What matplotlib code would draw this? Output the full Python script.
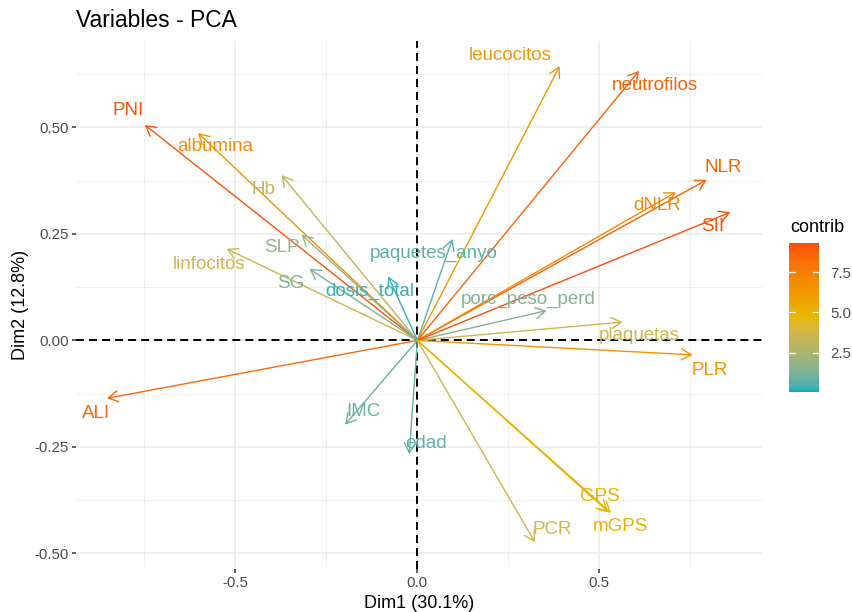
import numpy as np
import matplotlib
matplotlib.use("Agg")
import matplotlib.pyplot as plt
from matplotlib.colors import ListedColormap, Normalize
from matplotlib.colorbar import ColorbarBase

plt.rcParams['font.family'] = ['Liberation Sans', 'DejaVu Sans']

# ---------------- data ----------------
variables = ["PNI", "albumina", "Hb", "SLP", "linfocitos", "SG", "dosis_total",
             "paquetes_anyo", "porc_peso_perd", "plaquetas", "NLR", "dNLR", "SII",
             "PLR", "leucocitos", "neutrofilos", "ALI", "IMC", "edad", "GPS",
             "mGPS", "PCR"]
dim1 = [-0.749, -0.603, -0.373, -0.318, -0.524, -0.297, -0.080,
        0.096, 0.355, 0.564, 0.795, 0.710, 0.860,
        0.756, 0.391, 0.609, -0.853, -0.199, -0.0225, 0.524,
        0.532, 0.323]
dim2 = [0.506, 0.487, 0.388, 0.248, 0.215, 0.168, 0.150,
        0.238, 0.070, 0.043, 0.377, 0.348, 0.301,
        -0.034, 0.644, 0.633, -0.136, -0.198, -0.267, -0.402,
        -0.405, -0.474]
contrib = [9.17, 6.75, 3.25, 1.82, 3.60, 1.30, 0.33,
           0.74, 1.47, 3.59, 8.69, 7.02, 9.32,
           6.43, 6.37, 8.66, 8.38, 0.88, 0.81, 4.90,
           5.02, 3.70]
contrib_limits = (0.08, 9.32)
colorbar_ticks = [2.5, 5.0, 7.5]
x_ticks = [-0.5, 0.0, 0.5]
y_ticks = [-0.50, -0.25, 0.00, 0.25, 0.50]
x_label = "Dim1 (30.1%)"
y_label = "Dim2 (12.8%)"
title = "Variables - PCA"

# label offsets (layout, data units) relative to arrow tips
label_dx = [-0.046, 0.047, -0.049, -0.055, -0.049, -0.051, -0.050,
            -0.051, -0.050, 0.047, 0.045, -0.051, -0.049,
            0.046, -0.137, 0.043, -0.029, 0.050, 0.045, -0.023,
            0.026, 0.047]
label_dy = [0.033, -0.032, -0.034, -0.031, -0.037, -0.034, -0.035,
            -0.033, 0.026, -0.031, 0.029, -0.032, -0.034,
            -0.036, 0.024, -0.035, -0.036, 0.030, 0.026, 0.036,
            -0.033, 0.029]

# ---------------- colour scale (Lab interpolation like ggplot) ----------------
_M = np.array([[0.4124, 0.3576, 0.1805], [0.2126, 0.7152, 0.0722], [0.0193, 0.1192, 0.9505]])
_W = np.array([0.95047, 1.0, 1.08883])

def hex2lab(h):
    rgb = np.array([int(h[i:i + 2], 16) for i in (1, 3, 5)]) / 255.0
    lin = np.where(rgb <= 0.04045, rgb / 12.92, ((rgb + 0.055) / 1.055) ** 2.4)
    t = (_M @ lin) / _W
    f = np.where(t > 0.008856, np.cbrt(t), 7.787 * t + 16 / 116)
    return np.array([116 * f[1] - 16, 500 * (f[0] - f[1]), 200 * (f[1] - f[2])])

def lab2rgb(lab):
    L, a, b = lab
    fy = (L + 16) / 116
    f = np.array([fy + a / 500, fy, fy - b / 200])
    t = np.where(f > 0.2069, f ** 3, (f - 16 / 116) / 7.787)
    lin = np.linalg.solve(_M, t * _W)
    lin = np.clip(lin, 0, 1)
    rgb = np.where(lin <= 0.0031308, 12.92 * lin, 1.055 * lin ** (1 / 2.4) - 0.055)
    return np.clip(rgb, 0, 1)

stops = [hex2lab(h) for h in ["#00AFBB", "#E7B800", "#FC4E07"]]
cols = []
for s in np.linspace(0, 1, 256):
    if s <= 0.5:
        u = s / 0.5
        lab = stops[0] * (1 - u) + stops[1] * u
    else:
        u = (s - 0.5) / 0.5
        lab = stops[1] * (1 - u) + stops[2] * u
    cols.append(lab2rgb(lab))
cmap = ListedColormap(cols)
norm = Normalize(vmin=contrib_limits[0], vmax=contrib_limits[1])

# ---------------- figure ----------------
fig = plt.figure(figsize=(8.52, 6.12), dpi=100)
ax = fig.add_axes([0.0892, 0.0708, 0.8048, 0.8622])
ax.set_xlim(-0.938, 0.946)
ax.set_ylim(-0.536, 0.703)

for sp in ax.spines.values():
    sp.set_visible(False)
ax.set_xticks(x_ticks)
ax.set_xticklabels(["-0.5", "0.0", "0.5"])
ax.set_yticks(y_ticks)
ax.set_yticklabels(["-0.50", "-0.25", "0.00", "0.25", "0.50"])
ax.set_xticks([-0.75, -0.25, 0.25, 0.75], minor=True)
ax.set_yticks([-0.375, -0.125, 0.125, 0.375, 0.625], minor=True)
ax.tick_params(which='major', length=3, width=1.1, color='#333333', labelcolor='#4D4D4D',
               labelsize=10.8, pad=2)
ax.tick_params(which='minor', length=0)
ax.grid(which='major', color='#EBEBEB', lw=1.1)
ax.grid(which='minor', color='#EBEBEB', lw=0.55)
ax.set_axisbelow(True)

ax.axhline(0, color='black', lw=1.4, ls=(0, (4.1, 2.6)), zorder=1)
ax.axvline(0, color='black', lw=1.4, ls=(0, (4.1, 2.6)), zorder=1)

for name, x, y, c, dx, dy in zip(variables, dim1, dim2, contrib, label_dx, label_dy):
    col = cmap(norm(c))
    ax.annotate('', xy=(x, y), xytext=(0, 0),
                arrowprops=dict(arrowstyle='->,head_length=0.7,head_width=0.4',
                                color=col, lw=1.0, shrinkA=0, shrinkB=0),
                zorder=3)
    ax.text(x + dx, y + dy, name, color=col, fontsize=13.5, ha='center', va='center',
            zorder=4)

ax.set_xlabel(x_label, fontsize=13, color='black', labelpad=4)
ax.set_ylabel(y_label, fontsize=13, color='black', labelpad=4)

fig.text(76 / 852, 1 - 27 / 612, title, fontsize=16.5, ha='left', va='baseline', color='black')

# ---------------- colour bar ----------------
cax = fig.add_axes([789 / 852, 1 - 391.7 / 612, 30 / 852, 149 / 612])
cb = ColorbarBase(cax, cmap=cmap, norm=norm, orientation='vertical')
cb.outline.set_visible(False)
cb.set_ticks(colorbar_ticks)
cb.set_ticklabels(["2.5", "5.0", "7.5"])
cax.tick_params(length=0, labelsize=10.8, labelcolor='#4D4D4D', pad=8)
for t in colorbar_ticks:
    cax.plot([0, 0.2], [t, t], color='white', lw=0.9, transform=cax.get_yaxis_transform())
    cax.plot([0.8, 1.0], [t, t], color='white', lw=0.9, transform=cax.get_yaxis_transform())
fig.text(790 / 852, 1 - 227 / 612, "contrib", fontsize=13, ha='left', va='center', color='black')

fig.savefig("out.png", dpi=100)
